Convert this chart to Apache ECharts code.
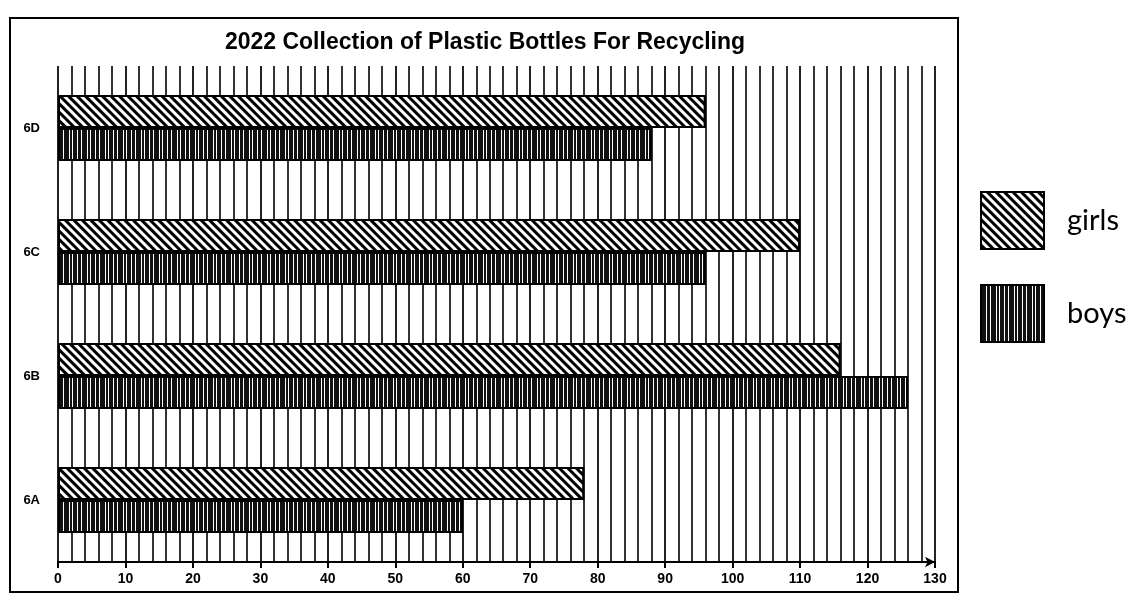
<!DOCTYPE html>
<html>
<head>
<meta charset="utf-8">
<script src="https://cdn.jsdelivr.net/npm/echarts@6/dist/echarts.min.js"></script>
<style>
html,body{margin:0;padding:0;background:#fff;}
#chart{width:1132px;height:601px;}
</style>
</head>
<body>
<div id="chart"></div>
<script>
const titleText = '2022 Collection of Plastic Bottles For Recycling';
const categories = ['6A', '6B', '6C', '6D'];
const girls = [78, 116, 110, 96];
const boys = [60, 126, 96, 88];
const xTicks = [0, 10, 20, 30, 40, 50, 60, 70, 80, 90, 100, 110, 120, 130];

const chart = echarts.init(document.getElementById('chart'));

const girlsDecal = {
  symbol: 'rect',
  symbolSize: 1,
  color: '#000',
  backgroundColor: '#fff',
  dashArrayX: [1, 0],
  dashArrayY: [3, 3],
  rotation: Math.PI / 4
};
const boysDecal = {
  symbol: 'rect',
  symbolSize: 1,
  color: '#fff',
  backgroundColor: '#111',
  dashArrayX: [[1, 4, 1, 3, 1, 5, 1, 2]],
  dashArrayY: [6, 0],
  rotation: 0
};

chart.setOption({
  animation: false,
  backgroundColor: '#fff',
  graphic: [
    {
      type: 'rect',
      shape: { x: 10, y: 18, width: 948, height: 574 },
      style: { fill: 'none', stroke: '#000', lineWidth: 2 },
      z: 0
    },
    {
      type: 'text',
      x: 485, y: 31,
      style: {
        text: titleText,
        fill: '#000',
        font: 'bold 23px "Liberation Sans", Arial, sans-serif',
        textAlign: 'center',
        textVerticalAlign: 'top'
      }
    }
  ],
  legend: {
    data: ['girls', 'boys'],
    orient: 'vertical',
    left: 975,
    top: 186,
    icon: 'rect',
    itemWidth: 63,
    itemHeight: 57,
    itemGap: 34,
    textStyle: {
      fontFamily: 'Lato, "Open Sans", sans-serif',
      fontSize: 29,
      color: '#000',
      padding: [0, 0, 0, 18]
    }
  },
  grid: { left: 58, right: 197, top: 66, bottom: 39, containLabel: false },
  xAxis: {
    type: 'value',
    min: 0,
    max: 130,
    interval: 10,
    axisLine: { show: true, lineStyle: { color: '#000', width: 2 }, symbol: ['none', 'arrow'], symbolSize: [8, 10] },
    axisTick: { show: true, length: 6, lineStyle: { color: '#000', width: 2 } },
    axisLabel: {
      color: '#000',
      fontFamily: '"Liberation Sans", Arial, sans-serif',
      fontWeight: 'bold',
      fontSize: 14,
      margin: 10,
      formatter: function (v) { return xTicks.indexOf(v) >= 0 ? String(v) : ''; }
    },
    splitLine: { show: true, lineStyle: { color: '#222', width: 2 } },
    minorTick: { show: false, splitNumber: 5 },
    minorSplitLine: { show: true, lineStyle: { color: '#333', width: 2 } }
  },
  yAxis: {
    type: 'category',
    data: categories,
    axisLine: { show: false },
    axisTick: { show: false },
    axisLabel: {
      color: '#000',
      fontFamily: '"Liberation Sans", Arial, sans-serif',
      fontWeight: 'bold',
      fontSize: 13,
      margin: 18
    },
    splitLine: { show: false }
  },
  series: [
    {
      name: 'girls',
      type: 'bar',
      data: girls,
      barWidth: 33,
      barGap: '0%',
      itemStyle: { color: '#fff', borderColor: '#000', borderWidth: 2, decal: girlsDecal },
      z: 3
    },
    {
      name: 'boys',
      type: 'bar',
      data: boys,
      barWidth: 33,
      barGap: '0%',
      itemStyle: { color: '#111', borderColor: '#000', borderWidth: 2, decal: boysDecal },
      z: 3
    }
  ]
});
</script>
</body>
</html>
